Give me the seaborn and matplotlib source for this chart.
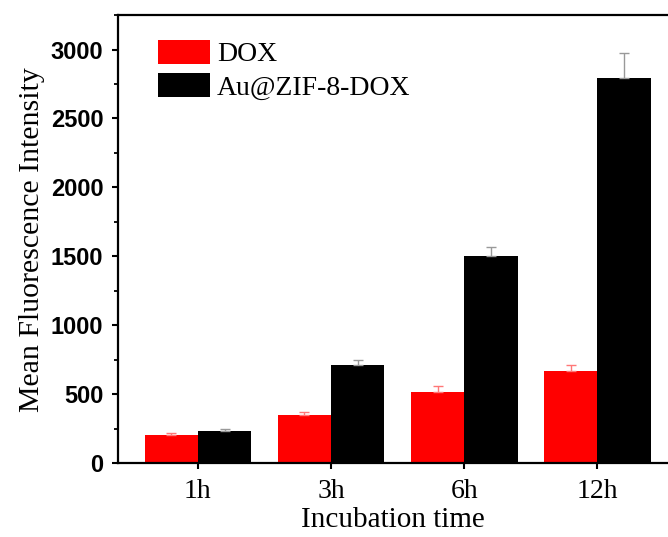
import numpy as np
import pandas as pd
import matplotlib
matplotlib.use('Agg')
import matplotlib.pyplot as plt
import seaborn as sns
from matplotlib.ticker import MultipleLocator

# values
times = ['1h', '3h', '6h', '12h']
dox = [205, 348, 515, 668]
dox_err = [15, 22, 42, 42]
au_zif = [235, 712, 1500, 2797]
au_zif_err = [10, 35, 70, 175]
groups = ['DOX', 'Au@ZIF-8-DOX']

df = pd.DataFrame({
    'time': times * 2,
    'group': [groups[0]] * 4 + [groups[1]] * 4,
    'value': dox + au_zif,
})

sns.set_style('ticks')
plt.rcParams['font.family'] = ['Liberation Serif', 'DejaVu Serif']
plt.rcParams['text.color'] = 'black'
plt.rcParams['axes.labelcolor'] = 'black'
plt.rcParams['xtick.color'] = 'black'
plt.rcParams['ytick.color'] = 'black'

fig = plt.figure(figsize=(6.68, 5.37), dpi=100)
ax = fig.add_axes([0.1766, 0.1378, 0.8234, 0.834])

sns.barplot(data=df, x='time', y='value', hue='group', order=times,
            hue_order=groups, palette=['#ff0000', '#000000'],
            width=0.8, errorbar=None, saturation=1, ax=ax,
            edgecolor='none', linewidth=0)

# upward error bars, placed on the bar centres from seaborn
errs = [dox_err, au_zif_err]
vals = [dox, au_zif]
ecols = ['#ff7777', '#999999']
bar_conts = list(ax.containers)
for i, cont in enumerate(bar_conts):
    xs = [p.get_x() + p.get_width() / 2 for p in cont.patches]
    ax.errorbar(xs, vals[i], yerr=[np.zeros(4), errs[i]], fmt='none',
                ecolor=ecols[i], elinewidth=1.0, capsize=3.6, capthick=1.0)

ax.set_xlim(-0.6, 3.53)
ax.set_ylim(0, 3250)
ax.yaxis.set_major_locator(MultipleLocator(500))
ax.yaxis.set_minor_locator(MultipleLocator(250))

for s in ['left', 'bottom', 'top']:
    ax.spines[s].set_linewidth(1.6)
    ax.spines[s].set_color('black')
ax.spines['right'].set_visible(False)
ax.tick_params(axis='both', which='major', direction='out', length=4.5,
               width=1.5, pad=4)
ax.tick_params(axis='y', which='major', pad=6)
ax.tick_params(axis='x', which='major', pad=7)
ax.tick_params(axis='y', which='minor', direction='out', length=3, width=1.3)

for lab in ax.get_yticklabels():
    lab.set_fontfamily('Liberation Sans')
    lab.set_fontweight('bold')
    lab.set_fontsize(17)
for lab in ax.get_xticklabels():
    lab.set_fontsize(20)

ax.set_xlabel('Incubation time', fontsize=21, labelpad=2)
ax.set_ylabel('Mean Fluorescence Intensity', fontsize=21.5, labelpad=4)

leg = ax.legend(loc='upper left', frameon=False, fontsize=20,
                handlelength=1.87, handleheight=0.95, handletextpad=0.25,
                labelspacing=0.2, borderaxespad=0, borderpad=0,
                bbox_to_anchor=(0.0727, 0.945))

fig.savefig('out.png', dpi=100)
